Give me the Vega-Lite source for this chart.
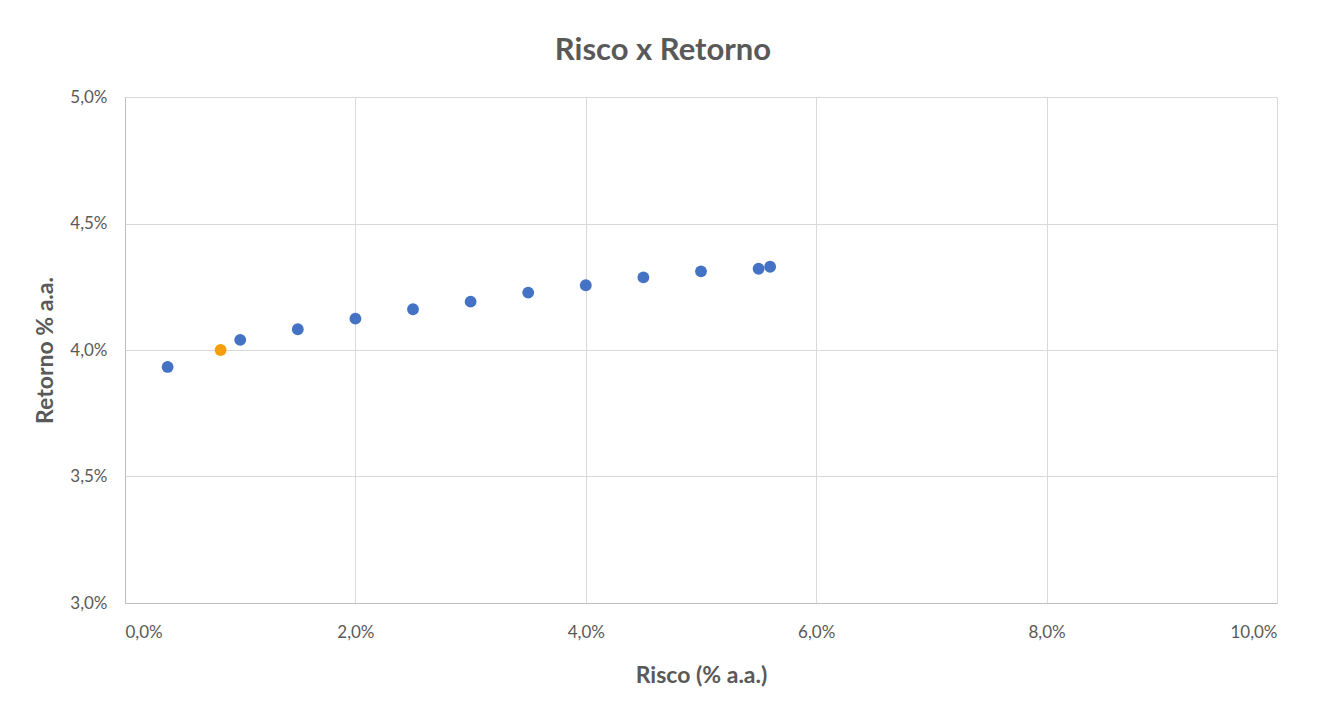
{
  "$schema": "https://vega.github.io/schema/vega-lite/v6.json",
  "autosize": "none",
  "width": 1152,
  "height": 506,
  "padding": {"left": 125, "top": 97, "right": 48, "bottom": 102},
  "background": "white",
  "title": {
    "text": "Risco x Retorno",
    "anchor": "middle",
    "dx": -38,
    "offset": 21,
    "font": "Lato",
    "fontSize": 31,
    "fontWeight": "bold",
    "color": "#595959"
  },
  "data": {
    "values": [
      {"risco": 0.0037, "retorno": 0.03933, "serie": "fronteira"},
      {"risco": 0.0083, "retorno": 0.04000, "serie": "atual"},
      {"risco": 0.0100, "retorno": 0.04040, "serie": "fronteira"},
      {"risco": 0.0150, "retorno": 0.04082, "serie": "fronteira"},
      {"risco": 0.0200, "retorno": 0.04124, "serie": "fronteira"},
      {"risco": 0.0250, "retorno": 0.04161, "serie": "fronteira"},
      {"risco": 0.0300, "retorno": 0.04191, "serie": "fronteira"},
      {"risco": 0.0350, "retorno": 0.04227, "serie": "fronteira"},
      {"risco": 0.0400, "retorno": 0.04256, "serie": "fronteira"},
      {"risco": 0.0450, "retorno": 0.04287, "serie": "fronteira"},
      {"risco": 0.0500, "retorno": 0.04311, "serie": "fronteira"},
      {"risco": 0.0550, "retorno": 0.04321, "serie": "fronteira"},
      {"risco": 0.0560, "retorno": 0.04329, "serie": "fronteira"}
    ]
  },
  "mark": {"type": "point", "filled": true, "opacity": 1, "size": 140},
  "encoding": {
    "x": {
      "field": "risco",
      "type": "quantitative",
      "scale": {"domain": [0, 0.1], "nice": false, "zero": false},
      "axis": {
        "title": "Risco (% a.a.)",
        "format": ".1%",
        "values": [0, 0.02, 0.04, 0.06, 0.08, 0.1],
        "labelPadding": 21,
        "titlePadding": 24
      }
    },
    "y": {
      "field": "retorno",
      "type": "quantitative",
      "scale": {"domain": [0.03, 0.05], "nice": false, "zero": false},
      "axis": {
        "title": "Retorno % a.a.",
        "format": ".1%",
        "values": [0.03, 0.035, 0.04, 0.045, 0.05],
        "labelPadding": 18,
        "titlePadding": 12
      }
    },
    "color": {
      "field": "serie",
      "type": "nominal",
      "scale": {"domain": ["fronteira", "atual"], "range": ["#4472C4", "#F59E0B"]},
      "legend": null
    }
  },
  "config": {
    "locale": {
      "number": {"decimal": ",", "thousands": ".", "grouping": [3], "currency": ["R$", ""]}
    },
    "view": {"stroke": null},
    "axis": {
      "grid": true,
      "gridColor": "#D9D9D9",
      "gridWidth": 1,
      "domainColor": "#BFBFBF",
      "domainWidth": 1,
      "ticks": false,
      "labelFont": "Lato",
      "labelFontSize": 17,
      "labelColor": "#595959",
      "titleFont": "Lato",
      "titleFontSize": 23,
      "titleFontWeight": "bold",
      "titleColor": "#595959"
    }
  }
}
